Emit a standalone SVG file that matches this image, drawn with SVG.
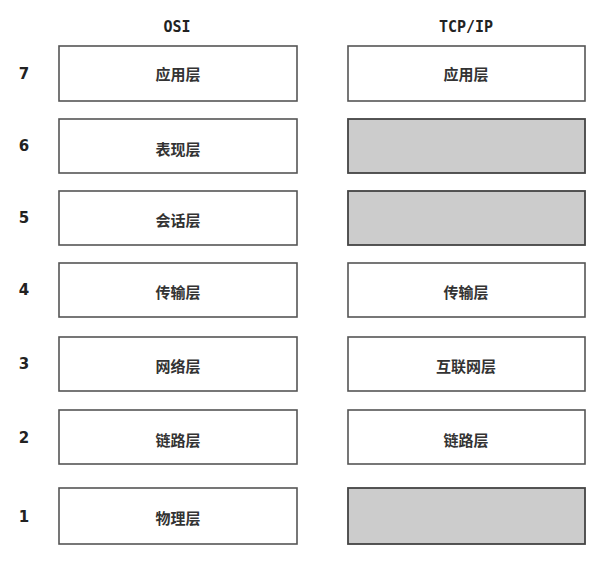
<svg xmlns="http://www.w3.org/2000/svg" width="604" height="566" viewBox="0 0 604 566">
<style>
.b{fill:#fff;stroke:#555;stroke-width:1.6}
.g{fill:#cccccc;stroke:#444;stroke-width:1.8}
.t{font-family:"Noto Sans CJK SC","DejaVu Sans",sans-serif;font-size:15px;font-weight:bold;fill:#333;text-anchor:middle}
.n{font-family:"DejaVu Sans",sans-serif;font-size:15px;font-weight:bold;fill:#222;text-anchor:middle}
.h{font-family:"DejaVu Sans Mono",monospace;font-size:15px;font-weight:bold;fill:#222;text-anchor:middle}
</style>
<rect width="604" height="566" fill="#fff"/>
<text class="h" x="177" y="32">OSI</text>
<text class="h" x="466" y="32">TCP/IP</text>
<g id="row7"><text class="n" x="24" y="79">7</text><rect class="b" x="59" y="46" width="238" height="55"/><text class="t" x="178" y="80">应用层</text><rect class="b" x="348" y="46" width="237" height="55"/><text class="t" x="466" y="80">应用层</text></g>
<g id="row6"><text class="n" x="24" y="151">6</text><rect class="b" x="59" y="119" width="238" height="54"/><text class="t" x="178" y="155">表现层</text><rect class="g" x="348" y="119" width="237" height="54"/></g>
<g id="row5"><text class="n" x="24" y="223">5</text><rect class="b" x="59" y="191" width="238" height="54"/><text class="t" x="178" y="226">会话层</text><rect class="g" x="348" y="191" width="237" height="54"/></g>
<g id="row4"><text class="n" x="24" y="295">4</text><rect class="b" x="59" y="263" width="238" height="54"/><text class="t" x="178" y="298">传输层</text><rect class="b" x="348" y="263" width="237" height="54"/><text class="t" x="466" y="298">传输层</text></g>
<g id="row3"><text class="n" x="24" y="369">3</text><rect class="b" x="59" y="337" width="238" height="54"/><text class="t" x="178" y="372">网络层</text><rect class="b" x="348" y="337" width="237" height="54"/><text class="t" x="466" y="372">互联网层</text></g>
<g id="row2"><text class="n" x="24" y="443">2</text><rect class="b" x="59" y="410" width="238" height="54"/><text class="t" x="178" y="446">链路层</text><rect class="b" x="348" y="410" width="237" height="54"/><text class="t" x="466" y="446">链路层</text></g>
<g id="row1"><text class="n" x="24" y="522">1</text><rect class="b" x="59" y="488" width="238" height="56"/><text class="t" x="178" y="524">物理层</text><rect class="g" x="348" y="488" width="237" height="56"/></g>
</svg>
